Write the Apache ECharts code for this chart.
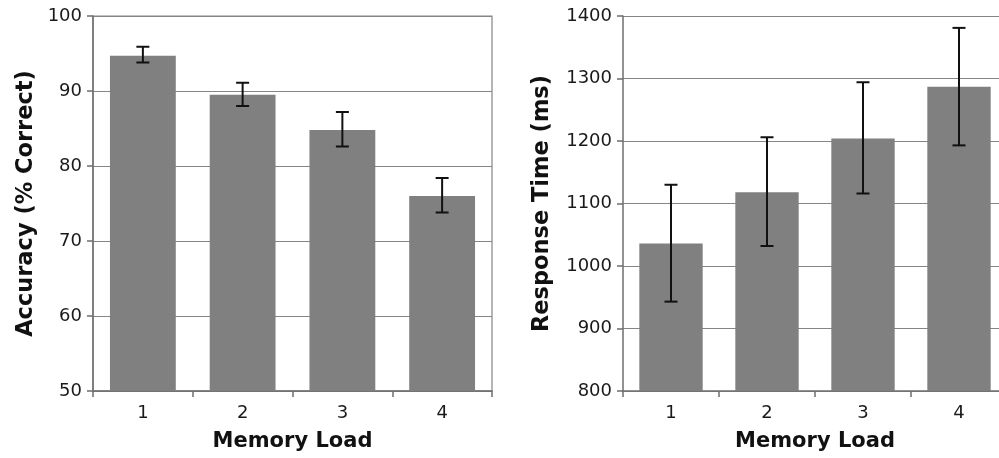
<!DOCTYPE html>
<html>
<head>
<meta charset="utf-8">
<script src="https://cdn.jsdelivr.net/npm/echarts@6/dist/echarts.min.js"></script>
<style>
html,body{margin:0;padding:0;background:#fff;}
#c{width:999px;height:458px;}
</style>
</head>
<body>
<div id="c"></div>
<script>
// ---- data ----
var categories = ['1', '2', '3', '4'];
var accMeans   = [94.7, 89.5, 84.8, 76.0];
var accErrHigh = [95.9, 91.1, 87.2, 78.4];
var accErrLow  = [93.8, 88.0, 82.6, 73.8];
var rtMeans    = [1036, 1118, 1204, 1287];
var rtErrHigh  = [1130, 1206, 1294, 1381];
var rtErrLow   = [943, 1032, 1116, 1193];
var accTicks = {min: 50, max: 100, interval: 10};
var rtTicks  = {min: 800, max: 1400, interval: 100};
var xTitle = 'Memory Load';
var accTitle = 'Accuracy (% Correct)';
var rtTitle = 'Response Time (ms)';

// ---- chart ----
var FONT = '"DejaVu Sans", Verdana, sans-serif';
var AXIS_COLOR = '#6e6e6e';
var GRID_COLOR = '#858585';
var BAR_COLOR = '#808080';

function errData(low, high) {
  return categories.map(function (c, i) { return [i, low[i], high[i]]; });
}

function renderErr(params, api) {
  var x = api.value(0);
  var lo = api.coord([x, api.value(1)]);
  var hi = api.coord([x, api.value(2)]);
  var hw = 6.5;
  var style = {stroke: '#111', lineWidth: 2, fill: null};
  return {
    type: 'group',
    children: [
      {type: 'line', shape: {x1: hi[0], y1: hi[1], x2: lo[0], y2: lo[1]}, style: style},
      {type: 'line', shape: {x1: hi[0] - hw, y1: hi[1], x2: hi[0] + hw, y2: hi[1]}, style: style},
      {type: 'line', shape: {x1: lo[0] - hw, y1: lo[1], x2: lo[0] + hw, y2: lo[1]}, style: style}
    ]
  };
}

function xAxis(gridIndex) {
  return {
    type: 'category', gridIndex: gridIndex, data: categories,
    name: xTitle, nameLocation: 'middle', nameGap: 40,
    nameTextStyle: {fontFamily: FONT, fontWeight: 'bold', fontSize: 21, color: '#111'},
    axisLine: {lineStyle: {color: AXIS_COLOR, width: 1.5}},
    axisTick: {show: true, inside: false, length: 6, lineStyle: {color: AXIS_COLOR, width: 1.5}},
    axisLabel: {fontFamily: FONT, fontSize: 18, color: '#1a1a1a', margin: 13},
    splitLine: {show: false}
  };
}

function yAxis(gridIndex, ticks, title, gap) {
  return {
    type: 'value', gridIndex: gridIndex,
    min: ticks.min, max: ticks.max, interval: ticks.interval,
    name: title, nameLocation: 'middle', nameGap: gap, nameRotate: 90,
    nameTextStyle: {fontFamily: FONT, fontWeight: 'bold', fontSize: 22.5, color: '#111'},
    axisLine: {show: true, lineStyle: {color: AXIS_COLOR, width: 1.5}},
    axisTick: {show: true, inside: false, length: 6, lineStyle: {color: AXIS_COLOR, width: 1.5}},
    axisLabel: {fontFamily: FONT, fontSize: 18, color: '#1a1a1a', margin: 11,
      formatter: function (v) { return String(v); }},
    splitLine: {show: true, lineStyle: {color: GRID_COLOR, width: 1.2}}
  };
}

var chart = echarts.init(document.getElementById('c'), null, {renderer: 'canvas'});
chart.setOption({
  backgroundColor: '#ffffff',
  animation: false,
  grid: [
    {left: 93, top: 16, width: 399, height: 375, show: true, borderColor: GRID_COLOR, borderWidth: 1.2,
      backgroundColor: 'transparent', outerBoundsMode: 'none', containLabel: false},
    {left: 623, top: 16, width: 384, height: 375, show: false, outerBoundsMode: 'none', containLabel: false}
  ],
  xAxis: [xAxis(0), xAxis(1)],
  yAxis: [yAxis(0, accTicks, accTitle, 55), yAxis(1, rtTicks, rtTitle, 69)],
  series: [
    {type: 'bar', xAxisIndex: 0, yAxisIndex: 0, data: accMeans, barWidth: '66%',
      itemStyle: {color: BAR_COLOR}, z: 2},
    {type: 'bar', xAxisIndex: 1, yAxisIndex: 1, data: rtMeans, barWidth: '66%',
      itemStyle: {color: BAR_COLOR}, z: 2},
    {type: 'custom', xAxisIndex: 0, yAxisIndex: 0, data: errData(accErrLow, accErrHigh),
      renderItem: renderErr, z: 5, encode: {x: 0, y: [1, 2]}},
    {type: 'custom', xAxisIndex: 1, yAxisIndex: 1, data: errData(rtErrLow, rtErrHigh),
      renderItem: renderErr, z: 5, encode: {x: 0, y: [1, 2]}}
  ]
});
</script>
</body>
</html>
